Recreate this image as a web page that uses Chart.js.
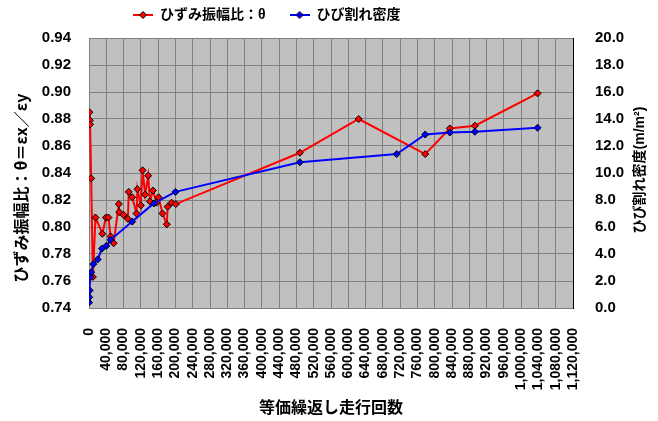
<!DOCTYPE html>
<html lang="ja">
<head>
<meta charset="UTF-8">
<title>ひずみ振幅比とひび割れ密度</title>
<style>
  body { margin: 0; background: #fff; }
  canvas { display: block; }
</style>
</head>
<body>
<canvas id="chart" width="658" height="421"></canvas>
<script src="https://cdn.jsdelivr.net/npm/chart.js"></script>
<script>
// ひずみ振幅比 θ (左軸)
const ratioX = [1000, 2000, 2500, 5000, 9000, 15000, 31000, 39000, 45000, 50000, 57000, 69000, 70000,
  80000, 90000, 92000, 100000, 110000, 112000, 120000, 124000, 130000, 137000, 141000, 148000,
  156000, 161000, 170000, 180000, 182000, 191000, 201000, 488000, 624000, 778000, 835000, 893000, 1038000];
const ratioY = [0.885, 0.879, 0.876, 0.836, 0.763, 0.807, 0.795, 0.807, 0.807, 0.793, 0.788, 0.817, 0.811,
  0.809, 0.806, 0.826, 0.822, 0.810, 0.828, 0.816, 0.842, 0.824, 0.838, 0.819, 0.827,
  0.818, 0.822, 0.810, 0.802, 0.815, 0.818, 0.817, 0.855, 0.880, 0.854, 0.873, 0.875, 0.899];

// ひび割れ密度 (右軸, m/m2)
const crackX = [0, 500, 1500, 3000, 5000, 10000, 20000, 30000, 40000, 50000, 100000, 150000, 200000,
  488000, 712000, 778000, 835000, 893000, 1038000];
const crackY = [0.4, 0.8, 1.3, 2.3, 2.65, 3.25, 3.6, 4.4, 4.6, 5.05, 6.4, 7.75, 8.6,
  10.8, 11.4, 12.85, 13.0, 13.05, 13.35];

const seriesNames = ['ひずみ振幅比：θ', 'ひび割れ密度'];
const seriesColors = ['#ff0000', '#0000ff'];
const leftTitle = 'ひずみ振幅比：θ＝εx／εy';
const rightTitle = 'ひび割れ密度(m/m²)';
const bottomTitle = '等価繰返し走行回数';

const FONT = "'Liberation Sans', 'Noto Sans CJK JP', sans-serif";
const JFONT = "'Noto Sans CJK JP', 'Liberation Sans', sans-serif";

function toPoints(xs, ys) {
  return xs.map((x, i) => ({ x: x, y: ys[i] }));
}

// legend symbol: short line with a diamond
function legendIcon(color) {
  const c = document.createElement('canvas');
  c.width = 20; c.height = 12;
  const g = c.getContext('2d');
  g.strokeStyle = color; g.lineWidth = 2;
  g.beginPath(); g.moveTo(0, 6); g.lineTo(20, 6); g.stroke();
  g.fillStyle = color; g.strokeStyle = '#000'; g.lineWidth = 1;
  g.beginPath(); g.moveTo(10, 2.5); g.lineTo(13.5, 6); g.lineTo(10, 9.5); g.lineTo(6.5, 6); g.closePath();
  g.fill(); g.stroke();
  return c;
}

const LEG_PAD = 24;

const plotBg = {
  id: 'plotBg',
  beforeDraw(chart) {
    const a = chart.chartArea, ctx = chart.ctx;
    ctx.save();
    ctx.fillStyle = '#c0c0c0';
    ctx.fillRect(a.left, a.top, a.right - a.left, a.bottom - a.top);
    ctx.restore();
  }
};

// legend sits left of centre like the original, fixed 38px band
const legendPlace = {
  id: 'legendPlace',
  beforeLayout(chart) {
    const lg = chart.legend;
    if (lg && !lg._fixed) {
      const fit = lg.fit.bind(lg);
      lg.fit = function () { fit(); this.height = 38; };
      lg._fixed = true;
    }
  },
  afterLayout(chart) {
    const lg = chart.legend;
    lg.left = 133 - LEG_PAD;
    lg.top = 8 - LEG_PAD;
  }
};

// side titles, both reading bottom-to-top
const sideTitles = {
  id: 'sideTitles',
  afterDraw(chart) {
    const a = chart.chartArea, ctx = chart.ctx;
    const mid = (a.top + a.bottom) / 2;
    ctx.save();
    ctx.fillStyle = '#000';
    ctx.textAlign = 'center';
    ctx.textBaseline = 'middle';

    ctx.save();
    ctx.translate(chart.scales.y.left + 21, mid + 15);
    ctx.rotate(-Math.PI / 2);
    ctx.font = 'bold 16px ' + JFONT;
    ctx.fillText(leftTitle, 0, 0);
    ctx.restore();

    ctx.save();
    ctx.translate(chart.scales.y2.right - 18, mid - 3);
    ctx.rotate(-Math.PI / 2);
    ctx.font = 'bold 14px ' + FONT;
    ctx.fillText(rightTitle, 0, 0);
    ctx.restore();

    ctx.restore();
  }
};

new Chart(document.getElementById('chart'), {
  type: 'scatter',
  data: {
    datasets: [
      {
        label: seriesNames[0],
        data: toPoints(ratioX, ratioY),
        yAxisID: 'y',
        showLine: true,
        borderColor: seriesColors[0],
        borderWidth: 2,
        pointStyle: 'rectRot',
        pointRadius: 3.5,
        pointBackgroundColor: seriesColors[0],
        pointBorderColor: '#000',
        pointBorderWidth: 1,
        order: 2
      },
      {
        label: seriesNames[1],
        data: toPoints(crackX, crackY),
        yAxisID: 'y2',
        showLine: true,
        borderColor: seriesColors[1],
        borderWidth: 2,
        pointStyle: 'rectRot',
        pointRadius: 3.5,
        pointBackgroundColor: seriesColors[1],
        pointBorderColor: '#000',
        pointBorderWidth: 1,
        order: 1
      }
    ]
  },
  options: {
    responsive: false,
    animation: false,
    layout: { padding: 0 },
    plugins: {
      tooltip: { enabled: false },
      legend: {
        position: 'top',
        align: 'start',
        labels: {
          usePointStyle: true,
          pointStyleWidth: 20,
          padding: LEG_PAD,
          color: '#000',
          font: { family: FONT, size: 14, weight: 'bold' },
          sort: (a, b) => a.datasetIndex - b.datasetIndex,
          generateLabels(chart) {
            return chart.data.datasets.map((ds, i) => ({
              text: ds.label,
              pointStyle: legendIcon(seriesColors[i]),
              fillStyle: seriesColors[i],
              strokeStyle: seriesColors[i],
              lineWidth: 0,
              fontColor: '#000',
              datasetIndex: i,
              hidden: false
            }));
          }
        }
      }
    },
    scales: {
      x: {
        type: 'linear',
        min: 0,
        max: 1120000,
        afterFit(s) { s.height = 113; },
        ticks: {
          stepSize: 40000,
          autoSkip: false,
          maxRotation: 90,
          minRotation: 90,
          padding: 20,
          color: '#000',
          font: { family: FONT, size: 14, weight: 'bold' },
          callback: v => v.toLocaleString('en-US')
        },
        grid: { color: '#808080', drawTicks: false },
        border: { color: '#808080' },
        title: {
          display: true,
          text: bottomTitle,
          color: '#000',
          font: { family: FONT, size: 16, weight: 'bold' },
          padding: { top: 0, bottom: 3 }
        }
      },
      y: {
        position: 'left',
        min: 0.74,
        max: 0.94,
        afterFit(s) { s.width = 89; },
        ticks: {
          stepSize: 0.02,
          padding: 18,
          color: '#000',
          font: { family: FONT, size: 15, weight: 'bold' },
          callback: v => v.toFixed(2)
        },
        grid: { color: '#808080', drawTicks: false },
        border: { color: '#808080' }
      },
      y2: {
        position: 'right',
        min: 0,
        max: 20,
        afterFit(s) { s.width = 85; },
        ticks: {
          stepSize: 2,
          padding: 22,
          color: '#000',
          font: { family: FONT, size: 15, weight: 'bold' },
          callback: v => v.toFixed(1)
        },
        grid: { drawOnChartArea: false, drawTicks: false },
        border: { color: '#000' }
      }
    }
  },
  plugins: [plotBg, legendPlace, sideTitles]
});
</script>
</body>
</html>
